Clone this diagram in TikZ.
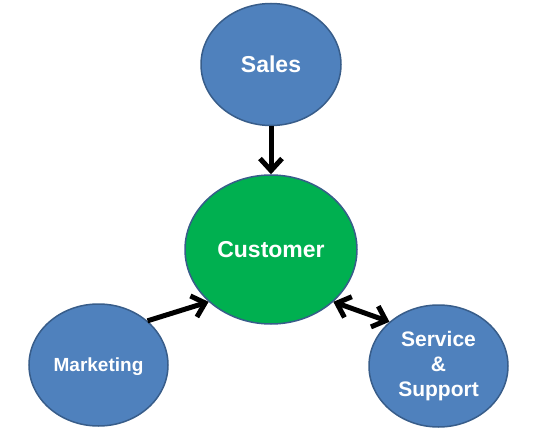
\documentclass[tikz,border=0pt]{standalone}
\usepackage{fontspec}
\setmainfont{Liberation Sans}
\usepackage{tikz}
\usetikzlibrary{positioning,arrows.meta,shapes.geometric}
\definecolor{deptblue}{HTML}{4F81BD}
\definecolor{rimblue}{HTML}{385D8A}
\definecolor{custgreen}{HTML}{00B050}
\tikzstyle{dept}=[ellipse, fill=deptblue, draw=rimblue, line width=1.5pt,
        text=white, align=center, inner sep=0pt,
        minimum width=139pt, minimum height=122pt]
\tikzstyle{cust}=[ellipse, fill=custgreen, draw=rimblue, line width=1.5pt,
        text=white, inner sep=0pt, text depth=0pt,
        minimum width=172pt, minimum height=149pt,
        font=\bfseries\fontsize{23}{27}\selectfont]
\tikzstyle{link}=[line width=5pt, line join=round,
        -{Straight Barb[length=12pt,width=22pt]}]
\tikzstyle{twoway}=[line width=5pt, line join=round,
        {Straight Barb[length=12pt,width=22pt]}-{Straight Barb[length=12pt,width=22pt]}]

\begin{document}
\begin{tikzpicture}[x=1pt, y=1pt]
        \useasboundingbox (0,0) rectangle (550,-436);

        \node[cust] (0) at (271,-249.5) {Customer};

        \node[dept, above=48pt of 0, minimum width=140pt, text depth=0pt,
            font=\bfseries\fontsize{23}{27}\selectfont] (1) {Sales};

        \node[dept, text depth=0pt, font=\bfseries\fontsize{19}{23}\selectfont] (2)
            at (98.5,-365) {Marketing};

        \node[dept, font=\bfseries\fontsize{21}{25}\selectfont] (3)
            at (438.5,-366) {Service\\ \&\\ Support};

        \draw[link] (1) to (0);
        \draw[link] (2.42) to (0.220);
        \draw[twoway] (0.320) to (3.138);

    \end{tikzpicture}
\end{document}
